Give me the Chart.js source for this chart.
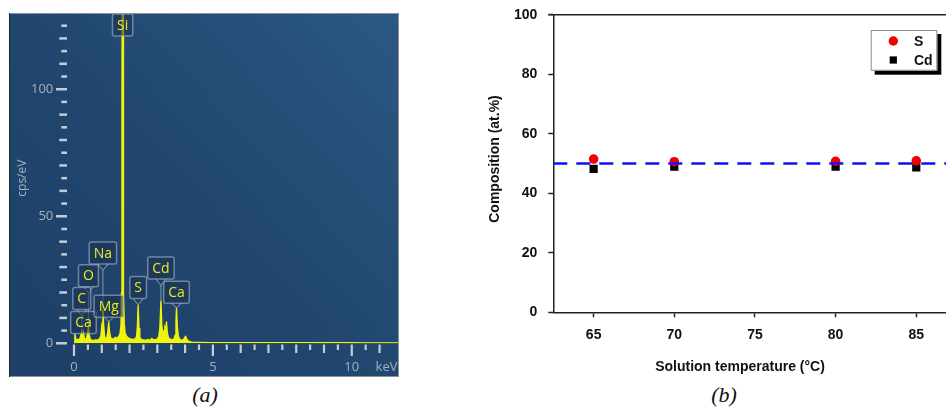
<!DOCTYPE html>
<html><head><meta charset="utf-8">
<script src="https://cdn.jsdelivr.net/npm/chart.js@4.4.0/dist/chart.umd.min.js"></script>
<style>
html,body{margin:0;padding:0;background:#fff;width:946px;height:412px;overflow:hidden;position:relative}
canvas{position:absolute}
#wb{position:absolute;left:470px;top:0;width:476px;height:380px;overflow:hidden}
.cap{position:absolute;font-family:"Liberation Serif","Times New Roman",serif;font-style:italic;font-size:22px;color:#111;top:382px;width:60px;text-align:center;line-height:26px}
</style></head><body>
<canvas id="ca" width="390" height="364" style="left:9px;top:13px"></canvas>
<div id="wb"><canvas id="cb" width="500" height="380" style="left:0;top:0"></canvas></div>
<div class="cap" style="left:175px">(a)</div>
<div class="cap" style="left:694px">(b)</div>
<script>
// ---------- Panel (a): EDS spectrum ----------
const specKeV = [
  0, 0.03, 0.06, 0.10, 0.14, 0.18, 0.22, 0.26, 0.28, 0.31,
  0.34, 0.37, 0.41, 0.45, 0.49, 0.52, 0.55, 0.59, 0.64, 0.70,
  0.76, 0.82, 0.88, 0.93, 0.97, 1.01, 1.04, 1.07, 1.10, 1.14,
  1.18, 1.22, 1.25, 1.28, 1.32, 1.37, 1.43, 1.49, 1.55, 1.60,
  1.65, 1.69, 1.71, 1.725, 1.735, 1.765, 1.775, 1.79, 1.81, 1.84,
  1.88, 1.93, 1.99, 2.06, 2.13, 2.20, 2.25, 2.28, 2.31, 2.34,
  2.37, 2.42, 2.50, 2.58, 2.66, 2.74, 2.80, 2.86, 2.93, 3.00,
  3.05, 3.09, 3.13, 3.16, 3.20, 3.24, 3.27, 3.30, 3.33, 3.36,
  3.40, 3.46, 3.53, 3.60, 3.64, 3.67, 3.69, 3.72, 3.76, 3.82,
  3.89, 3.95, 3.99, 4.02, 4.06, 4.12, 4.20, 4.30, 4.50, 5.00,
  5.50, 6.00, 6.50, 7.00, 7.50, 8.00, 8.50, 9.00, 9.50, 10.00,
  10.50, 11.00, 11.70
];
const specCps = [
  0, 3.8, 2.0, 1.2, 1.6, 1.3, 2.2, 3.8, 5.0, 2.6,
  4.3, 2.2, 1.4, 2.0, 4.2, 6.5, 3.2, 1.6, 1.2, 1.1,
  1.3, 1.2, 1.5, 1.9, 3.2, 8.0, 13.2, 7.0, 2.8, 1.8,
  2.2, 4.8, 8.6, 4.6, 2.2, 1.7, 1.8, 2.4, 2.0, 2.6,
  3.5, 7.0, 20, 95, 140, 140, 95, 20, 8, 4.2,
  3.0, 2.4, 2.0, 1.6, 1.5, 1.7, 2.6, 6.5, 15.2, 6.0,
  2.4, 1.5, 1.3, 1.2, 1.5, 1.2, 1.9, 1.4, 1.4, 1.8,
  2.6, 6.0, 16.8, 7.5, 3.2, 5.0, 6.4, 5.6, 8.6, 4.2,
  2.2, 1.6, 1.4, 1.8, 3.2, 8.5, 14.0, 6.8, 2.6, 1.5,
  1.2, 1.6, 2.4, 2.7, 1.6, 0.9, 0.6, 0.4, 0.35, 0.3,
  0.3, 0.28, 0.3, 0.25, 0.28, 0.25, 0.25, 0.22, 0.24, 0.22,
  0.2, 0.2, 0.2
];
// element labels (name, peak energy keV, peak top cps, label box bottom cps)
const peakNames = ['Si', 'Na', 'O', 'C', 'Ca', 'Mg', 'S', 'Cd', 'Ca'];
const peakKeV   = [1.75, 1.04, 0.52, 0.28, 0.34, 1.25, 2.31, 3.13, 3.69];
const peakTop   = [130, 13.2, 6.5, 5.0, 4.3, 8.6, 15.2, 16.8, 14.0];
const boxBase   = [120.9, 31.2, 22.3, 13.3, 3.9, 10.3, 17.6, 25.3, 15.8];
const xLabelsA  = [0, 5, 10];
const yLabelsA  = [0, 50, 100];

// ---------- Panel (b): composition ----------
const temps   = [65, 70, 80, 85];
const sComp   = [51.5, 50.6, 50.7, 50.9];
const cdComp  = [48.2, 48.9, 48.9, 48.7];
const refX    = [62.5, 87.5];
const refY    = [50, 50];
const xTicksB = [65, 70, 75, 80, 85];

const tickCol = '#c3ccd7';
const lblCol = '#a3b1c3';

function noPad(s) {
  s.paddingLeft = 0; s.paddingRight = 0; s.paddingTop = 0; s.paddingBottom = 0;
}

const bgA = {
  id: 'bgA',
  beforeDraw(chart) {
    const {ctx, width, height} = chart;
    ctx.save();
    const g = ctx.createLinearGradient(0, height, width, 0);
    g.addColorStop(0, '#1d3f68');
    g.addColorStop(0.5, '#21476f');
    g.addColorStop(1, '#2b5883');
    ctx.fillStyle = g;
    ctx.fillRect(0, 0, width, height);
    ctx.restore();
  },
  afterDraw(chart) {
    const {ctx, width, height} = chart;
    ctx.save();
    ctx.strokeStyle = '#8a939c';
    ctx.lineWidth = 1;
    ctx.strokeRect(0.5, 0.5, width - 1, height - 1);
    ctx.strokeStyle = '#1a2533';
    ctx.beginPath(); ctx.moveTo(0.5, 0); ctx.lineTo(0.5, height); ctx.stroke();
    ctx.restore();
  }
};

const ticksA = {
  id: 'ticksA',
  afterDraw(chart) {
    const {ctx, scales: {x, y}} = chart;
    ctx.save();
    ctx.strokeStyle = tickCol;
    ctx.lineWidth = 2.5;
    y.ticks.forEach(t => {
      const v = Math.round(t.value);
      if (v > 125) return;
      const py = y.getPixelForValue(t.value);
      const x0 = (v % 50 === 0) ? 47 : (v % 10 === 0 ? 50.3 : 52.3);
      ctx.beginPath(); ctx.moveTo(x0, py); ctx.lineTo(58, py); ctx.stroke();
    });
    ctx.lineWidth = 2.2;
    x.ticks.forEach(t => {
      const v = t.value;
      const px = x.getPixelForValue(v);
      let y1 = 337;
      if (Math.abs(v % 5) < 1e-6) y1 = 343;
      else if (Math.abs(v - Math.round(v)) < 1e-6) y1 = 340;
      ctx.beginPath(); ctx.moveTo(px, 331.5); ctx.lineTo(px, y1); ctx.stroke();
    });
    ctx.fillStyle = lblCol;
    ctx.font = '13px "Open Sans", sans-serif';
    ctx.textAlign = 'center';
    ctx.textBaseline = 'middle';
    ctx.fillText('keV', x.getPixelForValue(11.25), 354.5);
    ctx.restore();
  }
};

const labelsA = {
  id: 'labelsA',
  afterDatasetsDraw(chart) {
    const {ctx, scales: {x, y}} = chart;
    ctx.save();
    ctx.font = '14px "Open Sans", sans-serif';
    ctx.textAlign = 'center';
    ctx.textBaseline = 'middle';
    peakNames.forEach((name, i) => {
      const cx = x.getPixelForValue(peakKeV[i]);
      const by = y.getPixelForValue(boxBase[i]);
      const ty = y.getPixelForValue(peakTop[i]);
      const w = ctx.measureText(name).width + 9;
      const h = 22;
      if (ty > by + 1) {
        ctx.fillStyle = 'rgba(25,50,80,0.55)';
        ctx.strokeStyle = 'rgba(165,182,200,0.6)';
        ctx.lineWidth = 1.2;
        ctx.beginPath();
        ctx.moveTo(cx - 5, by); ctx.lineTo(cx, Math.min(by + 6, ty)); ctx.lineTo(cx + 5, by);
        ctx.fill(); ctx.stroke();
        ctx.beginPath(); ctx.moveTo(cx, Math.min(by + 6, ty)); ctx.lineTo(cx, ty); ctx.stroke();
      }
      ctx.fillStyle = 'rgba(25,50,80,0.55)';
      ctx.strokeStyle = 'rgba(165,182,200,0.6)';
      ctx.lineWidth = 1.5;
      ctx.beginPath();
      ctx.roundRect(cx - w / 2, by - h, w, h, 2);
      ctx.fill(); ctx.stroke();
      ctx.fillStyle = '#eaea1e';
      ctx.fillText(name, cx, by - h / 2 + 0.5);
    });
    ctx.restore();
  }
};

new Chart(document.getElementById('ca'), {
  type: 'scatter',
  data: {
    datasets: [{
      data: specKeV.map((k, i) => ({x: k, y: specCps[i]})),
      showLine: true,
      borderColor: '#f2f20a',
      borderWidth: 1.3,
      backgroundColor: '#f2f20a',
      fill: 'origin',
      pointRadius: 0,
      tension: 0
    }]
  },
  options: {
    responsive: false,
    animation: false,
    devicePixelRatio: 1,
    layout: {padding: 0},
    plugins: {legend: {display: false}, tooltip: {enabled: false}},
    scales: {
      x: {
        type: 'linear', min: 0, max: 11.7,
        afterFit(s) { s.height = 33.7; noPad(s); },
        afterBuildTicks(s) { s.ticks = s.ticks.filter(t => Math.abs(t.value * 2 - Math.round(t.value * 2)) < 1e-6); },
        grid: {display: false, drawTicks: false},
        border: {display: false},
        ticks: {
          stepSize: 0.5, autoSkip: false, maxRotation: 0, padding: 16.4,
          color: lblCol, font: {family: '"Open Sans", sans-serif', size: 13},
          callback: v => xLabelsA.includes(v) ? String(v) : ''
        }
      },
      y: {
        type: 'linear', min: 0, max: 130,
        afterFit(s) { s.width = 65; noPad(s); },
        grid: {display: false, drawTicks: false},
        border: {display: false},
        title: {display: true, text: 'cps/eV', color: lblCol, padding: {top: 6, bottom: 0}, font: {family: '"Open Sans", sans-serif', size: 12}},
        ticks: {
          stepSize: 5, autoSkip: false, padding: 20.7,
          color: lblCol, font: {family: '"Open Sans", sans-serif', size: 13},
          callback: v => yLabelsA.includes(v) ? String(v) : ''
        }
      }
    }
  },
  plugins: [bgA, ticksA, labelsA]
});

// ---------- Panel (b) ----------
const extrasB = {
  id: 'extrasB',
  afterDraw(chart) {
    const {ctx, chartArea: a} = chart;
    ctx.save();
    ctx.strokeStyle = '#222';
    ctx.lineWidth = 1.5;
    ctx.beginPath(); ctx.moveTo(a.left - 5, a.top); ctx.lineTo(a.right, a.top); ctx.stroke();
    ctx.fillStyle = '#111';
    ctx.font = 'bold 14px "Liberation Sans", Arial, sans-serif';
    ctx.textAlign = 'center';
    ctx.textBaseline = 'middle';
    ctx.fillText('Solution temperature (°C)', 270, 366.7);
    ctx.save();
    ctx.translate(25, 159);
    ctx.rotate(-Math.PI / 2);
    ctx.fillText('Composition (at.%)', 0, 0);
    ctx.restore();
    // legend
    const lx = 400.7, ly = 30, lw = 66.6, lh = 40.7;
    ctx.fillStyle = '#000';
    ctx.fillRect(lx + 4, ly + 4, lw, lh);
    ctx.fillStyle = '#fff';
    ctx.fillRect(lx, ly, lw, lh);
    ctx.strokeStyle = '#8c8c8c';
    ctx.lineWidth = 1;
    ctx.strokeRect(lx + 0.5, ly + 0.5, lw - 1, lh - 1);
    const ds = chart.data.datasets;
    ctx.fillStyle = ds[1].backgroundColor;
    ctx.beginPath(); ctx.arc(423.3, 41, 4.7, 0, Math.PI * 2); ctx.fill();
    ctx.fillStyle = ds[2].backgroundColor;
    ctx.fillRect(423.3 - 3.6, 60 - 3.6, 7.2, 7.2);
    ctx.fillStyle = '#111';
    ctx.textAlign = 'left';
    ctx.fillText(ds[1].label, 444, 42);
    ctx.fillText(ds[2].label, 444, 61);
    ctx.restore();
  }
};

new Chart(document.getElementById('cb'), {
  type: 'scatter',
  data: {
    datasets: [
      {
        label: 'ref',
        data: refX.map((v, i) => ({x: v, y: refY[i]})),
        showLine: true, borderColor: '#1010f5', borderWidth: 2.5,
        borderDash: [14, 9], pointRadius: 0, order: 0
      },
      {
        label: 'S',
        data: temps.map((t, i) => ({x: t, y: sComp[i]})),
        backgroundColor: '#f00000', borderColor: '#f00000', borderWidth: 0,
        pointStyle: 'circle', pointRadius: 4.8, order: 1
      },
      {
        label: 'Cd',
        data: temps.map((t, i) => ({x: t, y: cdComp[i]})),
        backgroundColor: '#000', borderColor: '#000', borderWidth: 0,
        pointStyle: 'rect', pointRadius: 5.8, order: 2
      }
    ]
  },
  options: {
    responsive: false,
    animation: false,
    devicePixelRatio: 1,
    layout: {padding: {top: 14.7, right: 13.4, left: 0, bottom: 0}},
    plugins: {legend: {display: false}, tooltip: {enabled: false}},
    scales: {
      x: {
        type: 'linear', min: 62.5, max: 87.5,
        afterFit(s) { s.height = 67.7; noPad(s); },
        afterBuildTicks(s) { s.ticks = xTicksB.map(v => ({value: v})); },
        grid: {drawOnChartArea: false, tickLength: 5, tickColor: '#222', tickWidth: 1.5},
        border: {color: '#222', width: 1.5},
        ticks: {padding: 9.3, color: '#111', maxRotation: 0, autoSkip: false,
          font: {family: '"Liberation Sans", Arial, sans-serif', size: 14, weight: 'bold'}}
      },
      y: {
        type: 'linear', min: 0, max: 100,
        afterFit(s) { s.width = 83.3; noPad(s); },
        grid: {drawOnChartArea: false, tickLength: 5, tickColor: '#222', tickWidth: 1.5},
        border: {color: '#222', width: 1.5},
        ticks: {stepSize: 20, padding: 11, color: '#111',
          font: {family: '"Liberation Sans", Arial, sans-serif', size: 14, weight: 'bold'}}
      }
    }
  },
  plugins: [extrasB]
});
</script>
</body></html>
